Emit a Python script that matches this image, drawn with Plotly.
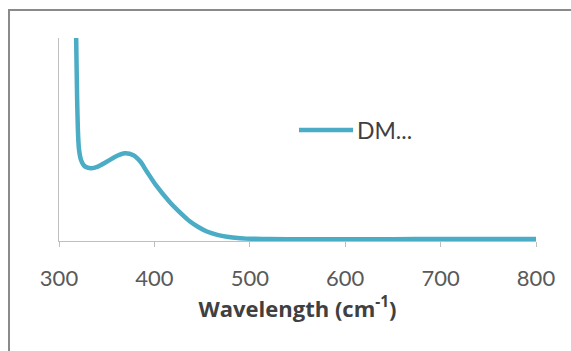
import plotly.graph_objects as go

# Data
wavelength = [312, 315, 317, 318, 319, 320, 321, 323, 326, 330, 334, 340, 350, 360, 369,
              378, 385, 392, 402, 416, 427, 437, 446, 455, 466, 476, 490,
              505, 520, 550, 600, 650, 700, 750, 800]
absorbance = [6.0, 4.0, 2.6, 2.0, 1.4, 1.05, 0.9, 0.8, 0.745, 0.722, 0.716, 0.73, 0.78, 0.835, 0.864,
              0.845, 0.785, 0.685, 0.545, 0.385, 0.28, 0.195, 0.138, 0.094, 0.061, 0.042, 0.028,
              0.021, 0.019, 0.018, 0.018, 0.018, 0.019, 0.019, 0.02]
series_name = "DM..."
x_ticks = [300, 400, 500, 600, 700, 800]

color = "#4BACC6"
axis_color = "#BFBFBF"

fig = go.Figure()
fig.add_trace(go.Scatter(x=wavelength, y=absorbance, mode="lines", name=series_name,
                         line=dict(color=color, width=4.5, shape="spline", smoothing=0.9),
                         showlegend=False))

# manual legend entry (line sample + text)
fig.add_shape(type="line", xref="paper", yref="paper", x0=(299-59)/477, x1=(353-59)/477,
              y0=(241-130)/203, y1=(241-130)/203, line=dict(color=color, width=4.5))
fig.add_annotation(text=series_name, xref="paper", yref="paper", x=(355-59)/477, y=(241-130)/203,
                   xanchor="left", yanchor="middle", showarrow=False,
                   font=dict(family="Lato", size=23, color="#404040"))

# outer chart frame (partially visible)
fig.add_shape(type="rect", xref="paper", yref="paper", x0=(9-59)/477, x1=1.3,
              y0=-0.8, y1=(241-10)/203, line=dict(color="#8A8A8A", width=2), layer="below")

fig.update_layout(
    width=571, height=351,
    margin=dict(l=59, r=35, t=38, b=110),
    paper_bgcolor="white", plot_bgcolor="white",
    font=dict(family="Lato", size=22, color="#595959"),
    xaxis=dict(range=[300, 800], tickvals=x_ticks, ticktext=[str(v) for v in x_ticks],
               showline=True, linecolor=axis_color, linewidth=1,
               ticks="outside", ticklen=5, tickcolor=axis_color,
               showgrid=False, zeroline=False, ticklabelstandoff=13,
               tickfont=dict(family="Lato", size=22, color="#595959"),
               title=dict(text="<b>Wavelength (cm<sup>-1</sup>)</b>", standoff=2,
                          font=dict(family="Open Sans", size=22, color="#404040"))),
    yaxis=dict(range=[0, 2], showline=True, linecolor=axis_color, linewidth=1,
               showticklabels=False, ticks="", showgrid=False, zeroline=False),
)

fig.write_html("out.html")
